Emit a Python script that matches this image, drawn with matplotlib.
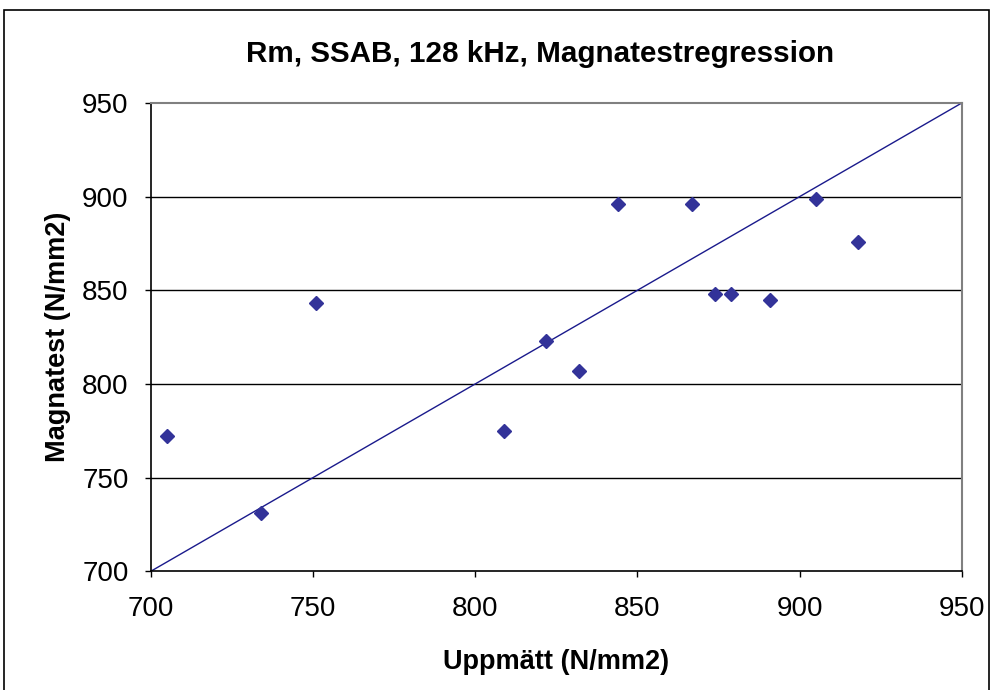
import numpy as np
import matplotlib.pyplot as plt
from matplotlib.patches import Rectangle

plt.rcParams['font.family'] = ['Liberation Sans', 'DejaVu Sans']

# measured vs. Magnatest tensile strength (N/mm2)
uppmatt = [705, 734, 751, 809, 822, 832, 844, 867, 874, 879, 891, 905, 918]
magnatest = [772, 731, 843, 775, 823, 807, 896, 896, 848, 848, 845, 899, 876]
ticks = [700, 750, 800, 850, 900, 950]

fig = plt.figure(figsize=(9.93, 6.90), dpi=100)
ax = fig.add_axes([0.1518, 0.172, 0.8167, 0.6787])

# horizontal gridlines inside the plot area
for t in ticks[1:-1]:
    ax.axhline(t, color='black', lw=1.0, zorder=1)

# y = x reference line
ax.plot([ticks[0], ticks[-1]], [ticks[0], ticks[-1]], color='#1a1a8c', lw=1.0, zorder=2)
ax.plot(uppmatt, magnatest, linestyle='none', marker='D', ms=7.2,
        color='#333399', zorder=3)

ax.set_xlim(700, 950)
ax.set_ylim(700, 950)
ax.set_xticks(ticks)
ax.set_yticks(ticks)
ax.tick_params(direction='out', length=4, width=1, labelsize=20, colors='black')
ax.tick_params(axis='x', pad=14)
ax.tick_params(axis='y', pad=12)

for side in ['left', 'bottom']:
    ax.spines[side].set_color('black')
    ax.spines[side].set_linewidth(1.2)
for side in ['top', 'right']:
    ax.spines[side].set_color('#808080')
    ax.spines[side].set_linewidth(1.5)

ax.set_xlabel('Uppmätt (N/mm2)', fontsize=19.5, fontweight='bold', labelpad=19)
ax.set_ylabel('Magnatest (N/mm2)', fontsize=19.5, fontweight='bold', labelpad=8)
fig.text(0.5435, 0.922, 'Rm, SSAB, 128 kHz, Magnatestregression', ha='center', va='center',
         fontsize=21.3, fontweight='bold')

# chart area border
fig.patches.append(Rectangle((4 / 993, -0.05), 985 / 993, 1.05 - 10 / 690,
                             transform=fig.transFigure, fill=False,
                             edgecolor='black', lw=1.2))

fig.savefig('out.png', dpi=100)
